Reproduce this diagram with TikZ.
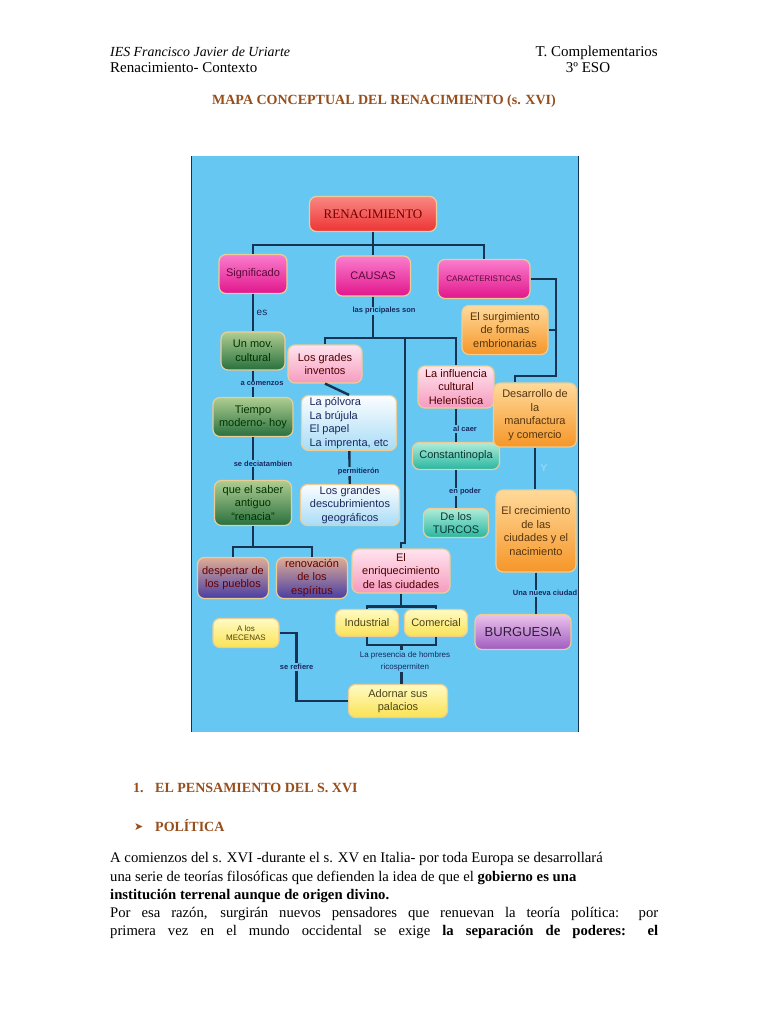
\documentclass[tikz,border=0pt]{standalone}
\usepackage{fontspec}
\setmainfont{Liberation Serif}
\newfontfamily\mapfont{Liberation Sans}
\newfontfamily\symfont{DejaVu Sans}
\usetikzlibrary{positioning, calc}
\definecolor{panelblue}{RGB}{102,200,242}
\definecolor{linkc}{RGB}{22,52,82}
\definecolor{lblc}{RGB}{25,40,95}
\definecolor{boxrim}{RGB}{236,205,150}
\definecolor{headbrown}{RGB}{150,78,28}
\definecolor{rentop}{RGB}{250,135,130}
\definecolor{renbot}{RGB}{236,52,52}
\definecolor{magtop}{RGB}{250,125,205}
\definecolor{magbot}{RGB}{226,22,140}
\definecolor{grntop}{RGB}{175,205,145}
\definecolor{grnbot}{RGB}{40,112,62}
\definecolor{orgtop}{RGB}{255,218,155}
\definecolor{orgbot}{RGB}{246,150,40}
\definecolor{pnktop}{RGB}{255,228,238}
\definecolor{pnkbot}{RGB}{246,155,190}
\definecolor{skytop}{RGB}{252,253,255}
\definecolor{skybot}{RGB}{168,220,246}
\definecolor{tealtop}{RGB}{175,236,218}
\definecolor{tealbot}{RGB}{40,182,160}
\definecolor{yeltop}{RGB}{255,251,195}
\definecolor{yelbot}{RGB}{250,226,85}
\definecolor{prptop}{RGB}{222,172,150}
\definecolor{prpbot}{RGB}{72,62,165}
\definecolor{liltop}{RGB}{235,195,235}
\definecolor{lilbot}{RGB}{160,92,192}
\tikzset{
    mapbox/.style={rectangle, rounded corners=7pt, draw=boxrim, line width=1.2pt, align=center, inner sep=1pt, font=\mapfont\fontsize{11}{13.5}\selectfont},
    rootbox/.style={mapbox, top color=rentop, bottom color=renbot, text=red!45!black, font=\fontsize{13}{14}\selectfont},
    magbox/.style={mapbox, top color=magtop, bottom color=magbot, text=magbot!40!black},
    greenbox/.style={mapbox, top color=grntop, bottom color=grnbot, text=black!80!green},
    orangebox/.style={mapbox, top color=orgtop, bottom color=orgbot, text=orgbot!35!black},
    pinkbox/.style={mapbox, top color=pnktop, bottom color=pnkbot, text=red!30!black},
    skybox/.style={mapbox, top color=skytop, bottom color=skybot, text=lblc},
    tealbox/.style={mapbox, top color=tealtop, bottom color=tealbot, text=tealbot!30!black},
    yellowbox/.style={mapbox, top color=yeltop, bottom color=yelbot, text=yelbot!30!black},
    purplebox/.style={mapbox, top color=prptop, bottom color=prpbot, text=red!40!black},
    lilacbox/.style={mapbox, top color=liltop, bottom color=lilbot, text=lilbot!30!black, font=\mapfont\fontsize{13}{14}\selectfont},
    link/.style={draw=linkc, line width=2.4pt},
    linklbl/.style={fill=panelblue, inner sep=1pt, text=lblc, align=center, font=\mapfont\bfseries\fontsize{7.5}{9}\selectfont},
    headtxt/.style={inner sep=0pt, font=\fontsize{15}{17}\selectfont},
    secttxt/.style={inner sep=0pt, text=headbrown, font=\bfseries\fontsize{14}{16}\selectfont},
    bodytxt/.style={inner sep=0pt, anchor=base west, font=\fontsize{14.7}{16}\selectfont}
}
\begin{document}
\begin{tikzpicture}[x=1pt, y=-1pt]
    \useasboundingbox (0,0) rectangle (768,1024);
    \fill[white] (0,0) rectangle (768,1024);
    % page heading
    \node[headtxt, anchor=base west, font=\itshape\fontsize{13.9}{17}\selectfont] (school) at (110,57) {IES Francisco Javier de Uriarte};
    \node[headtxt, anchor=base west] (topic) at (110,73) {Renacimiento- Contexto};
    \node[headtxt, anchor=base east] (subject) at (658,57) {T. Complementarios};
    \node[headtxt, anchor=base] (course) at (588,73) {3º ESO};
    \node[secttxt, anchor=base] (title) at (384,105) {MAPA CONCEPTUAL DEL RENACIMIENTO (s. XVI)};
    % concept map panel
    \fill[panelblue] (191,156) rectangle (578,732);
    \draw[linkc, line width=0.8pt] (191,156) -- (191,732) (578,156) -- (578,732);
    \begin{scope}
    \clip (191,156) rectangle (578,732);
    \node[rootbox, minimum width=127, minimum height=35] (ren) at (373,214) {RENACIMIENTO};
    \node[magbox, minimum width=68, minimum height=39] (sig) at (253,274) {Significado};
    \node[magbox, minimum width=75, minimum height=40] (cau) at (373,276) {CAUSAS};
    \node[magbox, minimum width=92, minimum height=39, font=\mapfont\fontsize{8}{9}\selectfont] (car) at (484,279) {CARACTERISTICAS};
    \node[orangebox, minimum width=86, minimum height=49] (sur) at (505,330) {El surgimiento\\de formas\\embrionarias};
    \node[greenbox, minimum width=64, minimum height=38] (mov) at (253,351) {Un mov.\\cultural};
    \node[greenbox, minimum width=80, minimum height=39] (tie) at (253,417) {Tiempo\\moderno- hoy};
    \node[greenbox, minimum width=77, minimum height=45] (que) at (253,503) {que el saber\\antiguo\\“renacia”};
    \node[purplebox, minimum width=71, minimum height=41] (desp) at (233,578) {despertar de\\los pueblos};
    \node[purplebox, minimum width=71, minimum height=41] (renov) at (312,578) {renovación\\de los\\espíritus};
    \node[yellowbox, minimum width=66, minimum height=29, font=\mapfont\fontsize{8}{9.5}\selectfont] (mec) at (246,633) {A los\\MECENAS};
    \node[yellowbox, minimum width=99, minimum height=33] (ado) at (398,701) {Adornar sus\\palacios};
    \node[pinkbox, minimum width=74, minimum height=38] (gra) at (325,364) {Los grades\\inventos};
    \node[skybox, minimum width=95, minimum height=55, align=left] (pol) at (349,423) {La pólvora\\La brújula\\El papel\\La imprenta, etc};
    \node[skybox, minimum width=99, minimum height=41] (gdes) at (350,505) {Los grandes\\descubrimientos\\geográficos};
    \node[pinkbox, minimum width=98, minimum height=44] (enr) at (401,571) {El\\enriquecimiento\\de las ciudades};
    \node[yellowbox, minimum width=63, minimum height=27] (ind) at (367,623) {Industrial};
    \node[yellowbox, minimum width=63, minimum height=27] (com) at (436,623) {Comercial};
    \node[pinkbox, minimum width=76, minimum height=42] (inf) at (456,387) {La influencia\\cultural\\Helenística};
    \node[tealbox, minimum width=87, minimum height=27] (con) at (456,456) {Constantinopla};
    \node[tealbox, minimum width=65, minimum height=29] (tur) at (456,523) {De los\\TURCOS};
    \node[orangebox, minimum width=83, minimum height=64] (des) at (535,415) {Desarrollo de\\la\\manufactura\\y comercio};
    \node[orangebox, minimum width=80, minimum height=82] (cre) at (536,531) {El crecimiento\\de las\\ciudades y el\\nacimiento};
    \node[lilacbox, minimum width=96, minimum height=35] (bur) at (523,632) {BURGUESIA};
    \coordinate (rj) at (556,376);
    \coordinate (mj) at (405,338);
    \draw[link] (ren.south) -- ++(0,13) coordinate (top);
    \draw[link] (sig.north) |- (top) -| (car.north); \draw[link] (top) -- (cau.north);
    \draw[link] (car.east) -| (rj) -| ([xshift=-20pt]des.north);
    \draw[link] (sur.east) -- (sur.east -| rj);
    \draw[link] (sig) -- node[linklbl, xshift=9pt, font=\mapfont\fontsize{10}{11}\selectfont] {es} (mov);
    \draw[link] (mov) -- node[linklbl, xshift=9pt] {a comenzos} (tie);
    \draw[link] (tie) -- node[linklbl, xshift=10pt, yshift=-5pt] {se deciatambien} (que);
    \draw[link] (que.south) -- ++(0,21) coordinate (qj);
    \draw[link] (desp.north) |- (qj) -| (renov.north);
    \draw[link] (cau.south) -- (cau.south |- mj);
    \draw[link] (gra.north) |- (mj) -| (inf.north);
    \draw[link] (mj) -- ++(0,205) -| (enr.north);
    \node[linklbl] (prin) at (384,311) {las pricipales son};
    \draw[link] (gra.south) -- (pol.north);
    \draw[link] (pol) -- node[linklbl, xshift=9pt, yshift=-4pt] {permitierón} (gdes);
    \draw[link] (inf) -- node[linklbl, xshift=9pt, yshift=-4pt] {al caer} (con);
    \draw[link] (con) -- node[linklbl, xshift=9pt, yshift=-3pt] {en poder} (tur);
    \draw[link] (des) -- node[linklbl, xshift=9pt, text=panelblue!60!white, font=\mapfont\fontsize{10}{11}\selectfont] {Y} (des |- cre.north);
    \draw[link] (cre.south) -- node[linklbl, xshift=9pt] {Una nueva ciudad} (cre.south |- bur.north);
    \draw[link] (enr.south) -- ++(0,13) coordinate (ej);
    \draw[link] (ind.north) |- (ej) -| (com.north);
    \draw[link] (ind.south) -- ++(0,8) -| (com.south);
    \coordinate (pj) at ($(ind.south)!0.5!(com.south)+(0,8)$);
    \draw[link] (pj) -- (pj |- ado.north);
    \node[linklbl, font=\mapfont\fontsize{8}{12}\selectfont] (pres) at (405,661) {La presencia de hombres\\ricospermiten};
    \draw[link] (mec.east) -- ++(17,0) |- node[linklbl, pos=0.25] {se refiere} (ado.west);
    \end{scope}
    % text below the map
    \node[secttxt, anchor=base west] (num) at (133,792) {1.};
    \node[secttxt, anchor=base west] (sect) at (155,792) {EL PENSAMIENTO DEL S. XVI};
    \node[secttxt, anchor=base west, font=\symfont\fontsize{11}{12}\selectfont] (mark) at (134,830) {➤};
    \node[secttxt, anchor=base west] (pol2) at (155,831) {POLÍTICA};
    \node[bodytxt] (l1) at (110,862) {A comienzos del s. XVI -durante el s. XV en Italia- por toda Europa se desarrollará};
    \node[bodytxt] (l2) at (110,881) {una serie de teorías filosóficas que defienden la idea de que el \textbf{gobierno es una}};
    \node[bodytxt] (l3) at (110,899) {\textbf{institución terrenal aunque de origen divino.}};
    \node[bodytxt] (l4) at (110,917) {\makebox[548pt][s]{Por esa razón, surgirán nuevos pensadores que renuevan la teoría política: por}};
    \node[bodytxt] (l5) at (110,935) {\makebox[548pt][s]{primera vez en el mundo occidental se exige \textbf{la separación de poderes: el}}};
\end{tikzpicture}
\end{document}
